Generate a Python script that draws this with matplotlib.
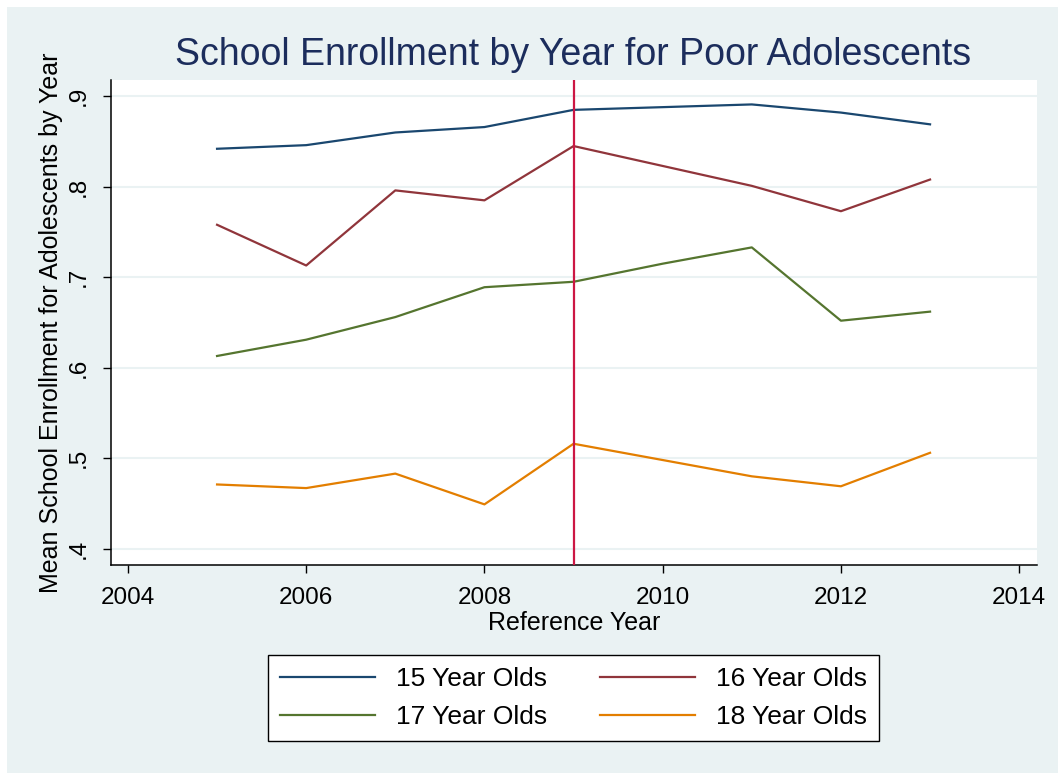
import matplotlib
matplotlib.use("Agg")
import matplotlib.pyplot as plt

years = [2005, 2006, 2007, 2008, 2009, 2010, 2011, 2012, 2013]
age15 = [0.842, 0.846, 0.860, 0.866, 0.885, 0.888, 0.891, 0.882, 0.869]
age16 = [0.758, 0.713, 0.796, 0.785, 0.845, 0.823, 0.801, 0.773, 0.808]
age17 = [0.613, 0.631, 0.656, 0.689, 0.695, 0.715, 0.733, 0.652, 0.662]
age18 = [0.471, 0.467, 0.483, 0.449, 0.516, 0.498, 0.480, 0.469, 0.506]
labels = ["15 Year Olds", "16 Year Olds", "17 Year Olds", "18 Year Olds"]
colors = ["#1a476f", "#90353b", "#55752f", "#e37e00"]
ref_year = 2009

x_ticks = [2004, 2006, 2008, 2010, 2012, 2014]
y_ticks = [0.4, 0.5, 0.6, 0.7, 0.8, 0.9]
y_ticklabels = [".4", ".5", ".6", ".7", ".8", ".9"]

plt.rcParams["font.family"] = ["Liberation Sans", "DejaVu Sans"]
bg = "#eaf2f3"

fig = plt.figure(figsize=(10.58, 7.73), dpi=100, facecolor="white")

# Stata-style outer panel (thin white margin at top/left)
bg_ax = fig.add_axes([7 / 1058, 0, 1 - 7 / 1058, 1 - 7 / 773], zorder=-10)
bg_ax.set_facecolor(bg)
bg_ax.set_xticks([])
bg_ax.set_yticks([])
for s in bg_ax.spines.values():
    s.set_visible(False)

ax = fig.add_axes([111 / 1058, 1 - 565 / 773, (1037 - 111) / 1058, (565 - 80) / 773])
ax.set_facecolor("white")

handles = []
for i, series in enumerate([age15, age16, age17, age18]):
    h, = ax.plot(years, series, color=colors[i], lw=1.6, label=labels[i], zorder=3)
    handles.append(h)

ax.axvline(ref_year, color="#cc1744", lw=1.6, zorder=4)

ax.set_xlim(2003.81, 2014.2)
ax.set_ylim(0.382, 0.918)
ax.set_xticks(x_ticks)
ax.set_yticks(y_ticks)
ax.set_yticklabels(y_ticklabels, rotation=90, va="center")
ax.tick_params(axis="both", labelsize=17.5, length=6, width=1, direction="out")
ax.tick_params(axis="x", pad=10)
ax.tick_params(axis="y", pad=9)
ax.grid(axis="y", color=bg, lw=1.5, zorder=1)
ax.set_axisbelow(True)

for side in ["top", "right"]:
    ax.spines[side].set_visible(False)
for side in ["left", "bottom"]:
    ax.spines[side].set_linewidth(1.1)

ax.set_xlabel("Reference Year", fontsize=18, labelpad=1)
ax.set_ylabel("Mean School Enrollment for Adolescents by Year", fontsize=18, labelpad=4)

fig.text(573 / 1058, 1 - 55 / 773, "School Enrollment by Year for Poor Adolescents",
         ha="center", va="center", fontsize=27, color="#1c2d5c")

# row-wise order like Stata: 15, 16 / 17, 18
order = [0, 2, 1, 3]
leg = fig.legend([handles[i] for i in order], [labels[i] for i in order],
                 loc="center", bbox_to_anchor=(573.5 / 1058, 1 - 698 / 773), ncol=2,
                 fontsize=19, frameon=True, fancybox=False, edgecolor="black",
                 facecolor="white", framealpha=1, handlelength=3.6,
                 columnspacing=2.0, borderpad=0.45, labelspacing=0.55)
leg.get_frame().set_linewidth(1.0)

fig.savefig("out.png", dpi=100, facecolor=fig.get_facecolor())
